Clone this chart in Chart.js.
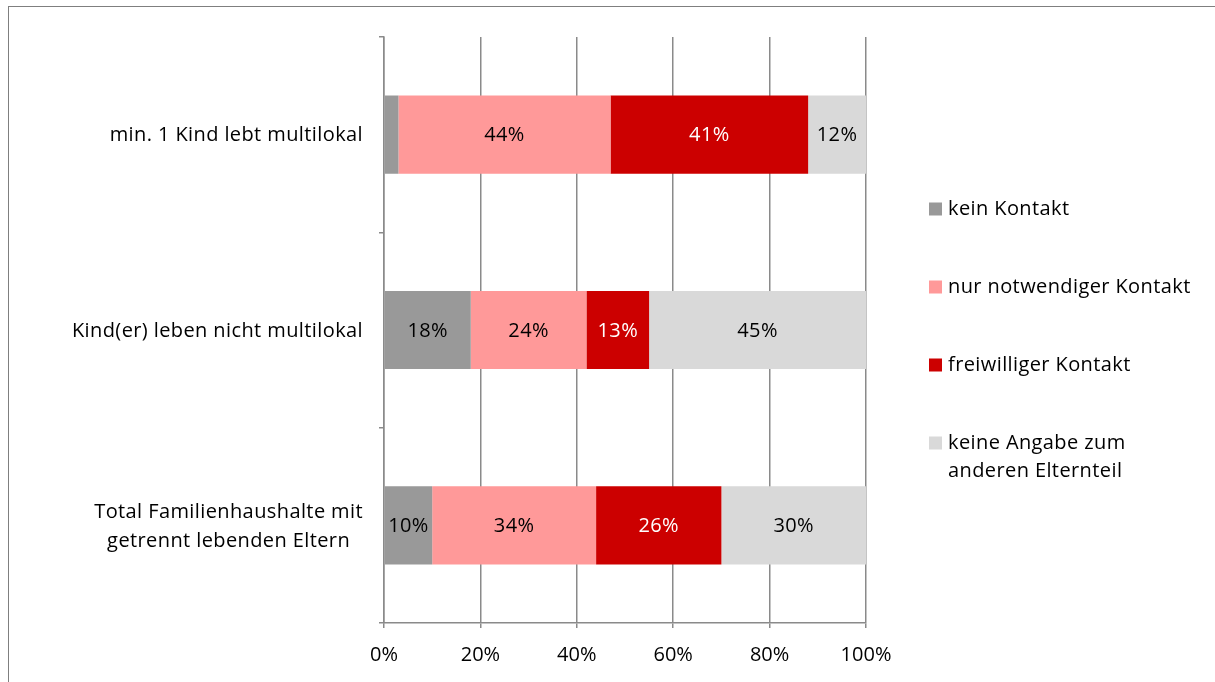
<!DOCTYPE html>
<html lang="de">
<head>
<meta charset="utf-8">
<title>Kontakt zum anderen Elternteil</title>
<script src="https://cdn.jsdelivr.net/npm/chart.js@4.4.1/dist/chart.umd.min.js"></script>
<style>
  html, body { margin: 0; padding: 0; background: #fff; }
  #wrap { position: relative; width: 1215px; height: 682px; overflow: hidden; }
  canvas { display: block; }
</style>
</head>
<body>
<div id="wrap"><canvas id="chart" width="1215" height="682"></canvas></div>
<script>
// Categories (multi-line labels as arrays)
const categories = [
  'min. 1 Kind lebt multilokal',
  'Kind(er) leben nicht multilokal',
  ['Total Familienhaushalte mit', 'getrennt lebenden Eltern']
];

// Series names (legend text)
const seriesNames = [
  ['kein Kontakt'],
  ['nur notwendiger Kontakt'],
  ['freiwilliger Kontakt'],
  ['keine Angabe zum', 'anderen Elternteil']
];

// Shares in percent per category
const keinKontakt   = [3, 18, 10];
const nurNotwendig  = [44, 24, 34];
const freiwillig    = [41, 13, 26];
const keineAngabe   = [12, 45, 30];

// X axis tick values
const xTickValues = [0, 20, 40, 60, 80, 100];

const seriesColors = ['#999999', '#FF9999', '#CC0000', '#D9D9D9'];
const labelColors  = ['#000000', '#000000', '#FFFFFF', '#000000'];

const FONT = '"Open Sans", Lato, sans-serif';
const FONT_SIZE = 20;
const LETTER_SPACING = '0.4px';
const AXIS_GREY = '#8a8a8a';

const seriesValues = [keinKontakt, nurNotwendig, freiwillig, keineAngabe];

const datasets = seriesValues.map((vals, i) => ({
  label: seriesNames[i].join(' '),
  data: vals,
  backgroundColor: seriesColors[i],
  borderWidth: 0,
  barPercentage: 0.4,
  categoryPercentage: 1.0
}));

function setTextStyle(ctx) {
  ctx.font = FONT_SIZE + 'px ' + FONT;
  if ('letterSpacing' in ctx) ctx.letterSpacing = LETTER_SPACING;
}

// Outer frame around the chart object
const framePlugin = {
  id: 'frame',
  beforeDraw(chart) {
    const ctx = chart.ctx;
    ctx.save();
    ctx.fillStyle = '#ffffff';
    ctx.fillRect(0, 0, chart.width, chart.height);
    ctx.strokeStyle = '#7f7f7f';
    ctx.lineWidth = 1;
    ctx.strokeRect(8.5, 6.5, 1400, 900);
    ctx.restore();
  }
};

// Percentage labels centred in each segment
const valueLabelPlugin = {
  id: 'valueLabels',
  afterDatasetsDraw(chart) {
    const ctx = chart.ctx;
    ctx.save();
    setTextStyle(ctx);
    ctx.textAlign = 'center';
    ctx.textBaseline = 'middle';
    chart.data.datasets.forEach((ds, di) => {
      const meta = chart.getDatasetMeta(di);
      meta.data.forEach((bar, i) => {
        const v = ds.data[i];
        if (v < 5) return;
        const p = bar.getProps(['x', 'y', 'base'], true);
        ctx.fillStyle = labelColors[di];
        ctx.fillText(v + '%', (p.x + p.base) / 2, p.y + 1);
      });
    });
    ctx.restore();
  }
};

// Category labels left of the axis; wrapped labels centred as a block
const categoryLabelPlugin = {
  id: 'categoryLabels',
  afterDraw(chart) {
    const ctx = chart.ctx;
    const yScale = chart.scales.y;
    const rightEdge = chart.chartArea.left - 21;
    const lineH = 29;
    ctx.save();
    setTextStyle(ctx);
    ctx.fillStyle = '#000000';
    ctx.textBaseline = 'middle';
    categories.forEach((lab, i) => {
      const lines = Array.isArray(lab) ? lab : [lab];
      const yc = yScale.getPixelForValue(i) + 1;
      const blockW = Math.max(...lines.map(l => ctx.measureText(l).width));
      const cx = rightEdge - blockW / 2;
      lines.forEach((line, k) => {
        const y = yc + (k - (lines.length - 1) / 2) * lineH;
        if (lines.length === 1) {
          ctx.textAlign = 'right';
          ctx.fillText(line, rightEdge, y);
        } else {
          ctx.textAlign = 'center';
          ctx.fillText(line, cx, y);
        }
      });
    });
    ctx.restore();
  }
};

// Legend on the right with square markers
const legendPlugin = {
  id: 'sideLegend',
  afterDraw(chart) {
    const ctx = chart.ctx;
    const x0 = chart.chartArea.right + 63;
    const firstY = 209;
    const step = 78;
    const lineH = 28;
    const box = 13;
    ctx.save();
    setTextStyle(ctx);
    ctx.textBaseline = 'middle';
    ctx.textAlign = 'left';
    seriesNames.forEach((lines, i) => {
      const y = firstY + i * step;
      ctx.fillStyle = seriesColors[i];
      ctx.fillRect(x0, y - box / 2, box, box);
      ctx.fillStyle = '#000000';
      lines.forEach((line, k) => {
        ctx.fillText(line, x0 + box + 6, y + k * lineH);
      });
    });
    ctx.restore();
  }
};

new Chart(document.getElementById('chart'), {
  type: 'bar',
  data: { labels: categories, datasets },
  options: {
    indexAxis: 'y',
    responsive: false,
    animation: false,
    devicePixelRatio: 1,
    layout: { padding: { top: 37, right: 349, left: 0, bottom: 0 } },
    plugins: {
      legend: { display: false },
      tooltip: { enabled: false }
    },
    scales: {
      x: {
        stacked: true,
        min: 0,
        max: 100,
        afterBuildTicks(scale) {
          scale.ticks = xTickValues.map(v => ({ value: v }));
        },
        ticks: {
          callback: v => v + '%',
          font: { family: FONT, size: FONT_SIZE },
          color: '#000000',
          padding: 15,
          maxRotation: 0
        },
        grid: {
          color: AXIS_GREY,
          lineWidth: 1.5,
          drawTicks: true,
          tickLength: 5,
          tickColor: AXIS_GREY
        },
        border: { display: true, color: AXIS_GREY, width: 1.5 },
        afterFit(scale) { scale.height = 59; }
      },
      y: {
        stacked: true,
        offset: true,
        ticks: { display: false },
        grid: {
          offset: true,
          drawOnChartArea: false,
          drawTicks: true,
          tickLength: 5,
          lineWidth: 1.5,
          color: AXIS_GREY,
          tickColor: AXIS_GREY
        },
        border: { display: true, color: AXIS_GREY, width: 1.5 },
        afterFit(scale) { scale.width = 384; }
      }
    }
  },
  plugins: [framePlugin, valueLabelPlugin, categoryLabelPlugin, legendPlugin]
});
</script>
</body>
</html>
